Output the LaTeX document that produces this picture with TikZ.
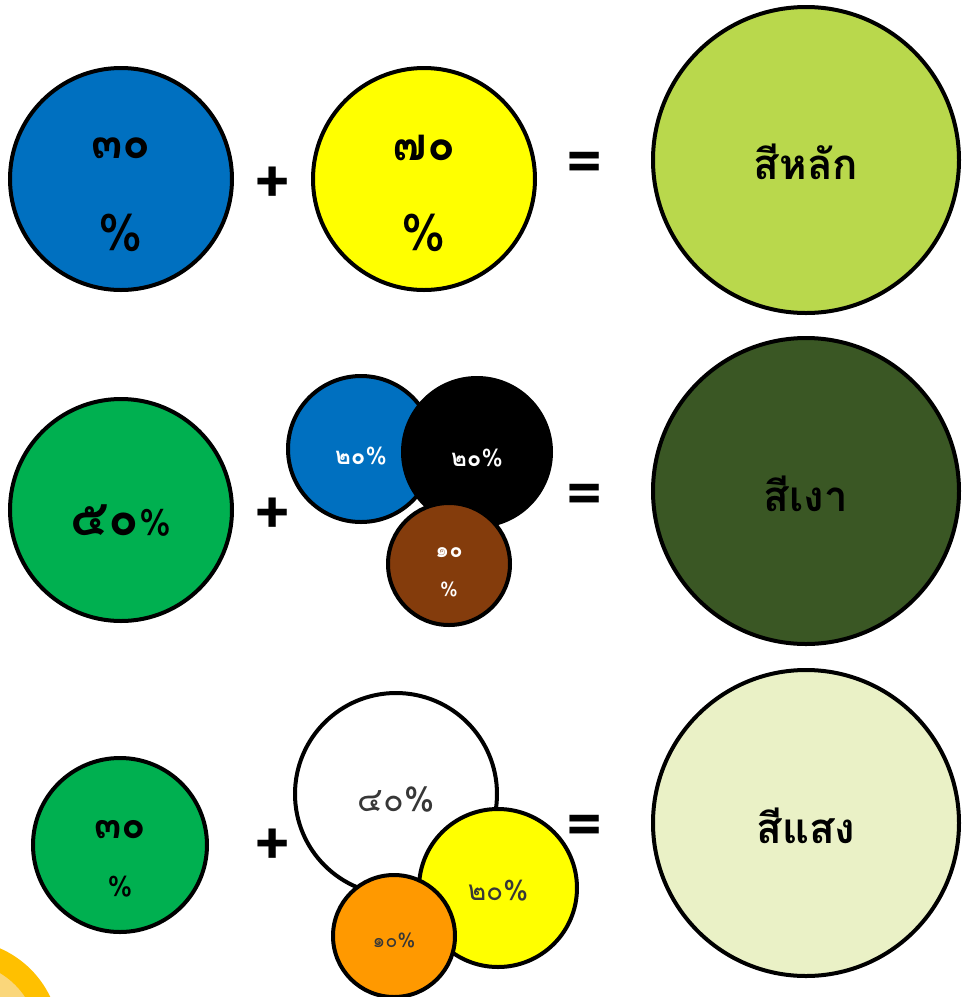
\documentclass[tikz,border=0pt]{standalone}
\usepackage{fontspec}
\setmainfont[Script=Thai]{Loma}
\usetikzlibrary{positioning}
\definecolor{mixblue}{RGB}{0,112,192}
\definecolor{mixyellow}{RGB}{255,255,0}
\definecolor{mixgreen}{RGB}{0,176,80}
\definecolor{mixbrown}{RGB}{132,60,12}
\definecolor{mixorange}{RGB}{255,153,0}
\definecolor{primelime}{RGB}{185,216,76}
\definecolor{shadegreen}{RGB}{58,87,36}
\definecolor{tintpale}{RGB}{234,241,198}
\definecolor{cornergold}{RGB}{255,192,0}
\definecolor{cornerlight}{RGB}{250,214,122}
\definecolor{ink}{RGB}{55,55,55}
\newcommand\fs[1]{\fontsize{#1}{#1}\selectfont}
\tikzset{
  disc/.style={circle,draw=black,line width=4pt,fill=#1,inner sep=0pt},
  disc/.default=white,
  txt/.style={inner sep=0pt,text=#1},
  txt/.default=black,
  result/.style={txt,font=\fs{42}\bfseries},
  sign/.style={font=\fs{62}\bfseries,inner sep=0pt},
}

\begin{document}
\begin{tikzpicture}[x=1pt,y=-1pt]
  \useasboundingbox (0,0) rectangle (962,997);
  % corner of the slide
  \begin{scope}
    \clip (0,0) rectangle (962,997);
    \draw[cornergold,fill=cornerlight,line width=22pt] (-40,1040) circle (89);
  \end{scope}
  % primary colours
  \node[disc=mixblue,minimum size=222pt] (blue1) at (121,179) {};
  \node[txt,font=\fs{46}\bfseries] (blue1num) at ([yshift=31pt]blue1) {๓๐};
  \node[txt,font=\fs{50}] (blue1pct) at ([yshift=-54pt]blue1) {\%};
  \node[sign] (plus1) at (273,185) {+};
  \node[disc=mixyellow,minimum size=222pt] (yellow1) at (424,179) {};
  \node[txt,font=\fs{46}\bfseries] (yellow1num) at ([yshift=31pt]yellow1) {๗๐};
  \node[txt,font=\fs{50}] (yellow1pct) at ([yshift=-54pt]yellow1) {\%};
  \node[sign] (eq1) at (585,168) {=};
  \node[disc=primelime,minimum size=306pt] (prime) at (806,160) {};
  \node[result] (primetxt) at ([yshift=-2pt]prime) {สีหลัก};
  % shade
  \node[disc=mixgreen,minimum size=222pt] (green2) at (121,510) {};
  \node[txt] (green2txt) at ([yshift=-11pt]green2) {{\fs{50}\bfseries ๕๐}{\fs{36}\%}};
  \node[sign] (plus2) at (273,516) {+};
  \node[disc=mixblue,minimum size=146pt] (blue2) at (361,449) {};
  \node[txt=white,font=\fs{24}] (blue2txt) at ([yshift=-7pt]blue2) {{\bfseries ๒๐}\%};
  \node[disc=black,minimum size=148pt] (black2) at (477,452) {};
  \node[txt=white,font=\fs{24}] (black2txt) at ([yshift=-6pt]black2) {{\bfseries ๒๐}\%};
  \node[disc=mixbrown,minimum size=122pt] (brown2) at (449,564) {};
  \node[txt=white,font=\fs{22}\bfseries] (brown2num) at ([yshift=11pt]brown2) {๑๐};
  \node[txt=white,font=\fs{20}] (brown2pct) at ([yshift=-25pt]brown2) {\%};
  \node[sign] (eq2) at (585,500) {=};
  \node[disc=shadegreen,minimum size=306pt] (shade) at (806,491) {};
  \node[result] (shadetxt) at ([yshift=-3pt]shade) {สีเงา};
  % tint
  \node[disc=mixgreen,minimum size=174pt] (green3) at (120,845) {};
  \node[txt,font=\fs{40}\bfseries] (green3num) at ([yshift=15pt]green3) {๓๐};
  \node[txt,font=\fs{28}] (green3pct) at ([yshift=-42pt]green3) {\%};
  \node[sign] (plus3) at (273,847) {+};
  \node[disc,minimum size=202pt] (white3) at (396,794) {};
  \node[txt=ink,font=\fs{34}] (white3txt) at ([yshift=-6pt]white3) {๔๐\%};
  \node[disc=mixyellow,minimum size=158pt] (yellow3) at (498,888) {};
  \node[txt=ink,font=\fs{28}] (yellow3txt) at ([yshift=-3pt]yellow3) {๒๐\%};
  \node[disc=mixorange,minimum size=122pt] (orange3) at (394,936) {};
  \node[txt=ink,font=\fs{20}] (orange3txt) at ([yshift=-4pt]orange3) {๑๐\%};
  \node[sign] (eq3) at (585,831) {=};
  \node[disc=tintpale,minimum size=306pt] (tint) at (806,823) {};
  \node[result] (tinttxt) at ([yshift=-3pt]tint) {สีแสง};
\end{tikzpicture}
\end{document}
